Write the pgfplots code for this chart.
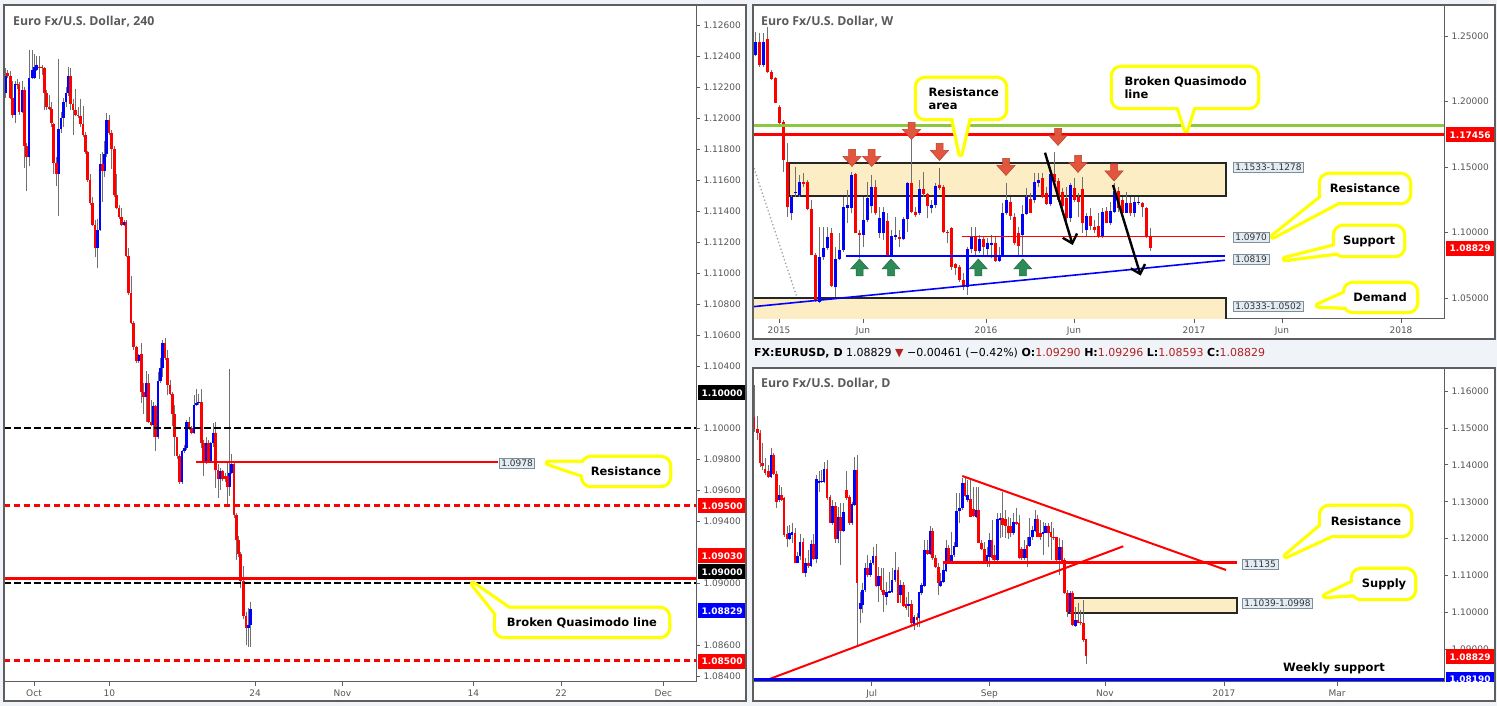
\documentclass[border=0pt]{standalone}
\usepackage{fontspec}
\setmainfont{DejaVu Sans}
\newfontfamily\ttlfont{Open Sans}
\usepackage{pgfplots}
\usepackage{pgfplotstable}
\pgfplotsset{compat=1.18}
\usetikzlibrary{arrows.meta}

\definecolor{bgc}{HTML}{F0F3F7}
\definecolor{frame}{HTML}{5E5E5E}
\definecolor{tickc}{HTML}{555555}
\definecolor{upc}{HTML}{0000FF}
\definecolor{dnc}{HTML}{FF0000}
\definecolor{wickc}{HTML}{707070}
\definecolor{beige}{HTML}{FDEDC5}
\definecolor{ylw}{HTML}{FFFF00}
\definecolor{lbfill}{HTML}{E4ECF3}
\definecolor{lbdraw}{HTML}{7D8E9C}
\definecolor{lbtext}{HTML}{333333}
\definecolor{qgreen}{HTML}{8DC63F}
\definecolor{arrred}{HTML}{E2553F}
\definecolor{arrredd}{HTML}{B8402C}
\definecolor{arrgrn}{HTML}{2E8B57}
\definecolor{arrgrnd}{HTML}{1F6B40}
\definecolor{infored}{HTML}{B22222}
\definecolor{ttlc}{HTML}{5A5A5A}

\pgfdeclareplotmark{adown}{%
  \pgfpathmoveto{\pgfpoint{-3.5pt}{8.5pt}}%
  \pgfpathlineto{\pgfpoint{3.5pt}{8.5pt}}%
  \pgfpathlineto{\pgfpoint{3.5pt}{1.5pt}}%
  \pgfpathlineto{\pgfpoint{9pt}{1.5pt}}%
  \pgfpathlineto{\pgfpoint{0pt}{-8.5pt}}%
  \pgfpathlineto{\pgfpoint{-9pt}{1.5pt}}%
  \pgfpathlineto{\pgfpoint{-3.5pt}{1.5pt}}%
  \pgfpathclose
  \pgfusepathqfillstroke}
\pgfdeclareplotmark{aup}{%
  \pgfpathmoveto{\pgfpoint{-3.5pt}{-8.5pt}}%
  \pgfpathlineto{\pgfpoint{3.5pt}{-8.5pt}}%
  \pgfpathlineto{\pgfpoint{3.5pt}{-1.5pt}}%
  \pgfpathlineto{\pgfpoint{9pt}{-1.5pt}}%
  \pgfpathlineto{\pgfpoint{0pt}{8.5pt}}%
  \pgfpathlineto{\pgfpoint{-9pt}{-1.5pt}}%
  \pgfpathlineto{\pgfpoint{-3.5pt}{-1.5pt}}%
  \pgfpathclose
  \pgfusepathqfillstroke}

% 4H candles: x (chart position), open, high, low, close
\pgfplotstableread{
x o h l c
5.7 1.1216 1.1232 1.1213 1.1227
7.3 1.1229 1.1231 1.1226 1.1227
10.3 1.1227 1.1230 1.1212 1.1213
12.3 1.1213 1.1224 1.1200 1.1202
15.0 1.1202 1.1224 1.1197 1.1222
17.3 1.1222 1.1225 1.1219 1.1221
19.0 1.1221 1.1223 1.1202 1.1204
22.0 1.1204 1.1224 1.1203 1.1218
24.3 1.1218 1.1220 1.1168 1.1182
26.7 1.1182 1.1184 1.1153 1.1175
29.0 1.1175 1.1244 1.1169 1.1226
32.0 1.1226 1.1244 1.1225 1.1231
34.3 1.1226 1.1241 1.1225 1.1233
36.7 1.1231 1.1240 1.1230 1.1234
39.3 1.1233 1.1240 1.1225 1.1232
42.0 1.1233 1.1234 1.1228 1.1232
44.3 1.1232 1.1233 1.1205 1.1216
46.7 1.1216 1.1218 1.1205 1.1207
49.3 1.1207 1.1215 1.1205 1.1206
51.7 1.1206 1.1210 1.1194 1.1197
53.7 1.1196 1.1197 1.1164 1.1171
56.7 1.1171 1.1175 1.1156 1.1164
58.7 1.1164 1.1238 1.1137 1.1193
61.0 1.1193 1.1204 1.1190 1.1200
63.3 1.1200 1.1213 1.1194 1.1210
66.0 1.1210 1.1220 1.1207 1.1216
68.0 1.1216 1.1233 1.1214 1.1227
70.3 1.1227 1.1232 1.1205 1.1209
73.0 1.1209 1.1212 1.1189 1.1205
75.3 1.1205 1.1219 1.1201 1.1202
78.0 1.1202 1.1207 1.1200 1.1201
80.3 1.1201 1.1212 1.1194 1.1196
83.0 1.1196 1.1208 1.1188 1.1189
85.7 1.1189 1.1191 1.1177 1.1178
87.7 1.1178 1.1179 1.1159 1.1160
90.0 1.1160 1.1164 1.1144 1.1145
92.3 1.1145 1.1149 1.1130 1.1131
95.0 1.1131 1.1134 1.1110 1.1116
97.7 1.1116 1.1135 1.1103 1.1128
100.0 1.1128 1.1177 1.1127 1.1170
102.3 1.1170 1.1178 1.1146 1.1166
104.3 1.1166 1.1185 1.1162 1.1177
106.7 1.1177 1.1203 1.1175 1.1199
109.0 1.1199 1.1202 1.1189 1.1190
111.3 1.1190 1.1192 1.1167 1.1180
114.3 1.1180 1.1182 1.1149 1.1150
116.7 1.1150 1.1164 1.1141 1.1142
119.0 1.1142 1.1144 1.1135 1.1136
121.3 1.1136 1.1142 1.1130 1.1131
124.0 1.1131 1.1134 1.1130 1.1133
126.0 1.1133 1.1134 1.1110 1.1111
128.7 1.1111 1.1116 1.1086 1.1087
131.0 1.1087 1.1098 1.1067 1.1068
133.3 1.1068 1.1069 1.1050 1.1052
136.7 1.1052 1.1053 1.1042 1.1043
138.7 1.1043 1.1048 1.1042 1.1047
141.3 1.1048 1.1055 1.1016 1.1023
143.7 1.1023 1.1029 1.1009 1.1020
146.0 1.1020 1.1037 1.1004 1.1029
148.3 1.1029 1.1035 1.1003 1.1004
151.0 1.1004 1.1018 1.1001 1.1002
153.3 1.1002 1.1017 1.0994 1.1014
155.7 1.1014 1.1015 1.0985 1.0994
158.0 1.0994 1.1036 1.0993 1.1030
160.3 1.1030 1.1045 1.1029 1.1039
162.7 1.1039 1.1057 1.1033 1.1055
165.0 1.1055 1.1058 1.1044 1.1045
167.7 1.1045 1.1050 1.1021 1.1028
170.0 1.1028 1.1031 1.1021 1.1022
172.3 1.1022 1.1023 1.1001 1.1009
174.7 1.1009 1.1015 1.0982 1.0994
177.0 1.0994 1.0994 1.0980 1.0982
179.7 1.0982 1.0983 1.0964 1.0965
182.0 1.0965 1.0986 1.0964 1.0985
184.3 1.0985 1.0989 1.0984 1.0987
186.7 1.0987 1.1005 1.0986 1.1004
189.0 1.1004 1.1007 1.0999 1.1000
191.3 1.1000 1.1001 1.0996 1.0997
194.0 1.0997 1.1021 1.0996 1.1015
196.3 1.1015 1.1025 1.1014 1.1016
198.7 1.1016 1.1022 1.1015 1.1017
201.3 1.1017 1.1025 1.0987 1.0990
203.7 1.0990 1.0992 1.0969 1.0979
206.0 1.0979 1.0994 1.0977 1.0990
208.3 1.0990 1.0992 1.0978 1.0979
210.7 1.0979 1.0991 1.0978 1.0990
213.0 1.0990 1.1003 1.0988 1.0997
215.7 1.0997 1.1004 1.0961 1.0973
218.0 1.0973 1.0977 1.0955 1.0967
220.3 1.0967 1.0974 1.0960 1.0972
222.7 1.0972 1.0973 1.0966 1.0967
225.0 1.0969 1.0971 1.0965 1.0967
227.3 1.0969 1.0978 1.0951 1.0962
229.3 1.0962 1.1038 1.0956 1.0971
231.7 1.0971 1.0983 1.0970 1.0977
234.0 1.0977 1.0979 1.0942 1.0944
236.3 1.0944 1.0945 1.0915 1.0928
238.7 1.0928 1.0930 1.0917 1.0919
240.7 1.0919 1.0920 1.0897 1.0901
243.3 1.0901 1.0911 1.0877 1.0879
246.0 1.0879 1.0881 1.0860 1.0871
248.3 1.0871 1.0884 1.0859 1.0873
250.3 1.0873 1.0888 1.0859 1.0883
}\tblL

% weekly candles
\pgfplotstableread{
x o h l c
755.0 1.2355 1.2533 1.2350 1.2457
759.3 1.2457 1.2520 1.2266 1.2279
763.3 1.2279 1.2520 1.2266 1.2457
767.3 1.2475 1.2571 1.2220 1.2228
771.3 1.2228 1.2241 1.2164 1.2172
775.3 1.2177 1.2190 1.1986 1.1991
779.3 1.1961 1.1973 1.1808 1.1838
783.3 1.1846 1.1859 1.1464 1.1553
787.3 1.1541 1.1681 1.1121 1.1197
791.3 1.1146 1.1286 1.1095 1.1274
795.3 1.1299 1.1503 1.1274 1.1312
799.3 1.1286 1.1439 1.1274 1.1388
803.3 1.1388 1.1452 1.1350 1.1368
807.3 1.1388 1.1401 1.1172 1.1177
811.3 1.1177 1.1248 1.0825 1.0828
815.3 1.0828 1.0841 1.0472 1.0477
819.3 1.0472 1.1045 1.0459 1.0810
823.3 1.0810 1.1045 1.0790 1.0879
827.3 1.0879 1.1045 1.0866 1.0963
831.3 1.0994 1.1032 1.0581 1.0592
835.3 1.0581 1.0892 1.0510 1.0795
839.3 1.0795 1.0994 1.0790 1.0866
843.3 1.0866 1.1274 1.0854 1.1197
847.3 1.1184 1.1325 1.1070 1.1210
851.3 1.1184 1.1464 1.1146 1.1439
855.3 1.1447 1.1452 1.0994 1.0999
859.3 1.0999 1.1019 1.0803 1.0981
863.3 1.0981 1.1274 1.0892 1.1095
867.3 1.1095 1.1388 1.1083 1.1261
871.3 1.1202 1.1439 1.1146 1.1350
875.3 1.1350 1.1401 1.1134 1.1146
879.3 1.0999 1.1197 1.0955 1.1108
883.3 1.0994 1.1197 1.0943 1.1159
887.3 1.1090 1.1146 1.0815 1.0821
891.3 1.0821 1.1019 1.0815 1.0973
895.3 1.0968 1.1121 1.0943 1.0981
899.3 1.0968 1.1019 1.0892 1.0948
903.3 1.0948 1.1121 1.0943 1.1100
907.3 1.1100 1.1388 1.1006 1.1380
911.3 1.1380 1.1770 1.1146 1.1159
915.3 1.1159 1.1197 1.1121 1.1134
919.3 1.1151 1.1401 1.1134 1.1330
923.3 1.1330 1.1459 1.1274 1.1291
927.3 1.1291 1.1299 1.1108 1.1202
931.3 1.1184 1.1248 1.1146 1.1210
935.3 1.1210 1.1380 1.1184 1.1355
939.3 1.1363 1.1490 1.1325 1.1337
943.3 1.1350 1.1363 1.0994 1.1006
947.3 1.1006 1.1019 1.0917 1.0994
951.3 1.1032 1.1045 1.0714 1.0739
955.3 1.0760 1.0764 1.0676 1.0727
959.3 1.0739 1.0752 1.0625 1.0638
963.3 1.0638 1.0688 1.0561 1.0581
967.3 1.0581 1.0892 1.0523 1.0872
971.3 1.0872 1.1045 1.0841 1.0973
975.3 1.0973 1.1045 1.0828 1.0861
979.3 1.0861 1.0981 1.0841 1.0948
983.3 1.0948 1.0968 1.0815 1.0892
987.3 1.0872 1.0955 1.0815 1.0922
991.3 1.0905 1.0981 1.0803 1.0917
995.3 1.0917 1.0968 1.0777 1.0785
999.3 1.0785 1.0892 1.0777 1.0828
1002.7 1.0828 1.1223 1.0815 1.1146
1006.7 1.1146 1.1376 1.1134 1.1248
1010.7 1.1235 1.1274 1.1095 1.1126
1014.7 1.1121 1.1146 1.0905 1.0917
1018.7 1.0994 1.1045 1.0828 1.0897
1022.7 1.0981 1.1210 1.0828 1.1141
1026.7 1.1141 1.1337 1.1134 1.1268
1030.7 1.1253 1.1299 1.1146 1.1151
1034.7 1.1248 1.1452 1.1223 1.1388
1038.7 1.1380 1.1452 1.1350 1.1401
1042.7 1.1414 1.1457 1.1261 1.1274
1046.7 1.1299 1.1350 1.1210 1.1218
1050.7 1.1218 1.1503 1.1202 1.1447
1054.7 1.1447 1.1617 1.1350 1.1388
1058.7 1.1393 1.1414 1.1235 1.1248
1062.7 1.1312 1.1337 1.1184 1.1202
1066.7 1.1261 1.1350 1.1083 1.1108
1070.7 1.1108 1.1376 1.1083 1.1363
1074.7 1.1337 1.1414 1.1235 1.1248
1078.7 1.1274 1.1299 1.1121 1.1235
1082.7 1.1330 1.1426 1.0994 1.1075
1086.7 1.1019 1.1146 1.0968 1.1126
1090.7 1.1126 1.1184 1.1019 1.1050
1094.7 1.1045 1.1095 1.0994 1.1019
1098.7 1.1050 1.1146 1.0955 1.0968
1102.7 1.0968 1.1184 1.0955 1.1159
1106.7 1.1167 1.1197 1.1070 1.1075
1110.7 1.1075 1.1235 1.1057 1.1167
1114.7 1.1159 1.1376 1.1146 1.1319
1118.7 1.1319 1.1350 1.1159 1.1184
1122.7 1.1248 1.1274 1.1134 1.1151
1126.7 1.1151 1.1312 1.1146 1.1228
1130.7 1.1228 1.1274 1.1126 1.1146
1134.7 1.1146 1.1274 1.1121 1.1235
1138.7 1.1223 1.1274 1.1210 1.1235
1142.7 1.1223 1.1235 1.1121 1.1192
1146.7 1.1184 1.1197 1.0955 1.0963
1150.7 1.0968 1.1032 1.0861 1.0883
}\tblW

% daily candles
\pgfplotstableread{
x o h l c
754.0 1.1529 1.1616 1.1490 1.1496
757.3 1.1496 1.1531 1.1467 1.1485
760.0 1.1485 1.1494 1.1395 1.1404
762.7 1.1404 1.1458 1.1386 1.1398
765.0 1.1390 1.1418 1.1372 1.1379
768.3 1.1382 1.1400 1.1363 1.1368
771.0 1.1368 1.1445 1.1363 1.1427
773.3 1.1427 1.1431 1.1372 1.1375
776.3 1.1375 1.1382 1.1282 1.1300
779.0 1.1305 1.1345 1.1300 1.1318
781.3 1.1318 1.1341 1.1303 1.1305
784.0 1.1309 1.1314 1.1205 1.1210
787.0 1.1212 1.1233 1.1178 1.1198
789.7 1.1200 1.1237 1.1196 1.1216
792.0 1.1210 1.1242 1.1187 1.1218
795.0 1.1216 1.1228 1.1133 1.1135
797.7 1.1135 1.1165 1.1133 1.1153
800.0 1.1153 1.1214 1.1142 1.1191
803.0 1.1191 1.1201 1.1106 1.1108
805.7 1.1108 1.1147 1.1097 1.1133
808.3 1.1135 1.1169 1.1120 1.1127
811.0 1.1127 1.1196 1.1124 1.1186
813.7 1.1186 1.1214 1.1142 1.1146
816.7 1.1146 1.1372 1.1133 1.1361
819.0 1.1350 1.1382 1.1327 1.1357
821.7 1.1353 1.1386 1.1350 1.1357
824.0 1.1354 1.1409 1.1350 1.1388
827.0 1.1388 1.1413 1.1305 1.1309
830.0 1.1312 1.1318 1.1242 1.1243
832.7 1.1243 1.1305 1.1237 1.1289
835.3 1.1289 1.1300 1.1189 1.1200
838.0 1.1200 1.1287 1.1189 1.1258
840.7 1.1258 1.1296 1.1129 1.1222
843.7 1.1222 1.1296 1.1219 1.1272
846.3 1.1332 1.1384 1.1305 1.1311
849.3 1.1312 1.1318 1.1237 1.1242
852.0 1.1242 1.1300 1.1237 1.1294
854.3 1.1291 1.1422 1.1289 1.1386
857.0 1.1386 1.1427 1.0912 1.1081
860.3 1.1009 1.1056 1.0971 1.1025
862.3 1.1020 1.1079 1.0998 1.1061
865.0 1.1061 1.1133 1.1056 1.1120
867.7 1.1120 1.1156 1.1097 1.1102
870.3 1.1102 1.1142 1.1097 1.1133
873.0 1.1133 1.1178 1.1129 1.1153
876.0 1.1153 1.1186 1.1070 1.1073
878.7 1.1073 1.1124 1.1029 1.1099
881.0 1.1099 1.1120 1.1056 1.1061
883.7 1.1061 1.1120 1.1002 1.1047
886.7 1.1043 1.1084 1.1020 1.1056
889.3 1.1054 1.1111 1.1052 1.1058
892.0 1.1055 1.1120 1.1052 1.1088
895.0 1.1088 1.1165 1.1084 1.1115
898.0 1.1115 1.1124 1.1025 1.1027
900.7 1.1047 1.1088 1.1025 1.1075
903.3 1.1075 1.1084 1.1016 1.1018
906.0 1.1023 1.1043 1.1007 1.1011
908.7 1.1018 1.1056 1.0989 1.1023
911.3 1.1023 1.1034 1.0966 1.0971
914.0 1.0969 1.0993 1.0953 1.0989
917.0 1.0989 1.0998 1.0962 1.0980
919.0 1.0984 1.1056 1.0962 1.1055
921.7 1.1052 1.1079 1.1047 1.1075
924.3 1.1072 1.1196 1.1070 1.1169
927.3 1.1169 1.1196 1.1156 1.1159
930.0 1.1159 1.1233 1.1156 1.1222
932.7 1.1222 1.1228 1.1142 1.1147
935.3 1.1147 1.1156 1.1120 1.1124
938.3 1.1124 1.1133 1.1047 1.1081
940.7 1.1072 1.1106 1.1070 1.1086
943.3 1.1084 1.1133 1.1079 1.1115
946.0 1.1113 1.1196 1.1111 1.1174
948.7 1.1174 1.1183 1.1131 1.1133
951.3 1.1133 1.1219 1.1131 1.1156
954.0 1.1156 1.1192 1.1151 1.1180
956.7 1.1178 1.1323 1.1177 1.1276
959.7 1.1276 1.1323 1.1242 1.1284
962.3 1.1282 1.1363 1.1278 1.1352
965.0 1.1352 1.1366 1.1312 1.1316
967.7 1.1305 1.1359 1.1300 1.1318
970.7 1.1307 1.1359 1.1258 1.1260
973.3 1.1280 1.1341 1.1258 1.1262
976.0 1.1260 1.1341 1.1255 1.1278
978.7 1.1278 1.1341 1.1187 1.1189
981.7 1.1189 1.1196 1.1168 1.1171
984.3 1.1171 1.1192 1.1131 1.1140
987.0 1.1140 1.1178 1.1124 1.1156
989.7 1.1151 1.1215 1.1122 1.1196
992.0 1.1196 1.1251 1.1142 1.1147
994.7 1.1156 1.1183 1.1138 1.1142
997.3 1.1142 1.1269 1.1140 1.1252
1000.0 1.1251 1.1269 1.1201 1.1255
1002.7 1.1255 1.1327 1.1205 1.1237
1005.3 1.1252 1.1278 1.1201 1.1233
1008.0 1.1234 1.1260 1.1198 1.1216
1010.7 1.1233 1.1255 1.1204 1.1216
1013.3 1.1216 1.1269 1.1210 1.1246
1016.3 1.1246 1.1282 1.1237 1.1240
1019.0 1.1242 1.1264 1.1144 1.1147
1021.7 1.1171 1.1177 1.1142 1.1147
1024.3 1.1147 1.1196 1.1142 1.1171
1027.0 1.1183 1.1205 1.1122 1.1147
1029.7 1.1180 1.1255 1.1178 1.1205
1032.3 1.1204 1.1233 1.1196 1.1224
1035.0 1.1222 1.1278 1.1219 1.1252
1037.7 1.1252 1.1264 1.1204 1.1205
1040.3 1.1215 1.1251 1.1196 1.1205
1043.0 1.1213 1.1246 1.1156 1.1219
1045.7 1.1216 1.1242 1.1215 1.1233
1048.3 1.1233 1.1242 1.1178 1.1216
1051.0 1.1219 1.1246 1.1142 1.1204
1053.7 1.1205 1.1228 1.1196 1.1201
1056.3 1.1204 1.1205 1.1140 1.1142
1059.3 1.1142 1.1201 1.1102 1.1177
1062.0 1.1177 1.1196 1.1138 1.1140
1064.7 1.1142 1.1147 1.1050 1.1052
1067.3 1.1054 1.1061 1.0989 1.1002
1070.0 1.1002 1.1057 1.0998 1.1054
1072.7 1.1054 1.1057 1.0964 1.0966
1075.3 1.0964 1.1016 1.0962 1.0980
1078.0 1.0980 1.1025 1.0971 1.0972
1080.7 1.0975 1.1007 1.0966 1.0971
1083.3 1.0972 1.1034 1.0921 1.0926
1086.0 1.0929 1.09296 1.08593 1.08829
}\tblD

\pgfplotsset{
  tv/.style={
    scale only axis, clip=true, anchor=south west,
    axis x line*=bottom, axis y line*=right,
    axis line style={-, draw=frame, line width=1pt},
    tick align=outside, major tick length=4pt,
    tick style={draw=frame, line width=0.8pt},
    ticklabel style={font=\fontsize{9}{11}\selectfont, text=tickc},
    yticklabel style={/pgf/number format/fixed, /pgf/number format/fixed zerofill, /pgf/number format/precision=5},
    /pgf/number format/assume math mode=true,
    scaled y ticks=false, minor tick num=0,
  },
}
\newcommand{\candles}[2]{%
  \addplot[wickc, line width=1pt, quiver={u=0,v=\thisrow{h}-\thisrow{l}, every arrow/.append style={line width=1pt}}] table[x=x,y=l]{#1};
  \addplot[upc, line width=#2, quiver={u=0,v=\thisrow{c}-\thisrow{o}, every arrow/.append style={line width=#2}}, restrict expr to domain={\thisrow{c}-\thisrow{o}}{0:1}] table[x=x,y=o]{#1};
  \addplot[dnc, line width=#2, quiver={u=0,v=\thisrow{c}-\thisrow{o}, every arrow/.append style={line width=#2}}, restrict expr to domain={\thisrow{c}-\thisrow{o}}{-1:0}] table[x=x,y=o]{#1};
}
\newcommand{\pbox}[4]{\node[fill=#3, text=white, font=\bfseries\fontsize{9}{11}\selectfont, minimum width=48pt, minimum height=15pt, inner sep=0pt, anchor=west] at (#1,#2) {#4};}
\newcommand{\lbox}[3]{\node[fill=lbfill, draw=lbdraw, line width=0.6pt, text=lbtext, font=\fontsize{9}{11}\selectfont, inner xsep=2pt, inner ysep=1.6pt, anchor=west] at (#1,#2) {#3};}
\newcommand{\callout}[5]{%
  \draw[draw=ylw, line width=6.5pt, rounded corners=8pt] (#1,#2) rectangle (#3,#4);
  \draw[draw=ylw, line width=6.5pt, line join=round] #5 -- cycle;
  \fill[white, rounded corners=8pt] (#1,#2) rectangle (#3,#4);
  \fill[white] #5 -- cycle;
}
\newcommand{\cof}{\bfseries\fontsize{11.5}{12.5}\selectfont}

\begin{document}
\begin{tikzpicture}[x=1pt,y=1pt]
\fill[bgc] (0,0) rectangle (1497,706);
\fill[white] (4,5) rectangle (746,701);
\fill[white] (753,367) rectangle (1495,701);
\fill[white] (753,5) rectangle (1495,338);

% ---------------- left: 240 ----------------
\begin{axis}[tv, at={(4pt,24pt)}, width=692pt, height=677pt,
  xmin=4, xmax=696, ymin=1.08361, ymax=1.12729,
  xtick={34,109.3,255,342.3,473.3,561,663.3}, xticklabels={Oct,10,24,Nov,14,22,Dec},
  ytick={1.084,1.086,1.090,1.094,1.096,1.098,1.100,1.104,1.106,1.108,1.110,1.112,1.114,1.116,1.118,1.120,1.122,1.124,1.126}]
\candles{\tblL}{2.6pt}
\addplot[black, line width=2.8pt, dash pattern=on 6.5pt off 3.5pt] coordinates {(4,1.1000) (696,1.1000)};
\addplot[dnc, line width=1.8pt] coordinates {(196,1.0978) (498,1.0978)};
\addplot[dnc, line width=2.6pt, dash pattern=on 6pt off 4pt] coordinates {(4,1.0950) (696,1.0950)};
\addplot[black, line width=2.8pt, dash pattern=on 6.5pt off 3.5pt] coordinates {(4,1.0900) (696,1.0900)};
\addplot[dnc, line width=2.8pt] coordinates {(4,1.0903) (696,1.0903)};
\addplot[dnc, line width=2.6pt, dash pattern=on 6pt off 4pt] coordinates {(4,1.0850) (696,1.0850)};
\end{axis}

% ---------------- weekly ----------------
\begin{axis}[tv, at={(753pt,387pt)}, width=691pt, height=314pt,
  xmin=753, xmax=1444, ymin=1.03397, ymax=1.27366,
  xtick={779,863,986,1074,1194,1282,1401}, xticklabels={2015,Jun,2016,Jun,2017,Jun,2018},
  ytick={1.05,1.10,1.15,1.20,1.25}]
\draw[fill=beige, draw=black!85, line width=2pt] (axis cs:789,1.1278) rectangle (axis cs:1226,1.1533);
\draw[fill=beige, draw=black!85, line width=2pt] (axis cs:753,1.0333) rectangle (axis cs:1226,1.0502);
\addplot[gray!75, line width=1.7pt, dash pattern=on 0.1pt off 3.6pt, line cap=round] coordinates {(753,1.15153) (796.7,1.05099)};
\candles{\tblW}{3.2pt}
\addplot[qgreen, line width=3pt] coordinates {(753,1.1813) (1444,1.1813)};
\addplot[dnc, line width=3pt] coordinates {(753,1.17456) (1444,1.17456)};
\addplot[dnc, line width=1.8pt] coordinates {(962,1.0970) (1225,1.0970)};
\addplot[upc, line width=2pt] coordinates {(846,1.0819) (1225,1.0819)};
\addplot[upc, line width=1.6pt] coordinates {(753,1.04336) (1225,1.07878)};
\addplot[only marks, mark=adown, mark options={fill=arrred, draw=arrredd, line width=0.5pt}] coordinates {(852,1.15687) (871.7,1.15687) (911.5,1.17748) (939.5,1.16145) (1006,1.1500) (1058,1.1729) (1078,1.15229) (1114,1.1458)};
\addplot[only marks, mark=aup, mark options={fill=arrgrn, draw=arrgrnd, line width=0.5pt}] coordinates {(859.5,1.07328) (891,1.07328) (978.3,1.07328) (1022.8,1.07328)};
\draw[black, line width=2.4pt, -{Straight Barb[length=8pt, width=15pt]}] (axis cs:1045,1.16092) -- (axis cs:1072.7,1.09046);
\draw[black, line width=2.4pt, -{Straight Barb[length=8pt, width=15pt]}] (axis cs:1113,1.13626) -- (axis cs:1140.7,1.0671);
\end{axis}

% ---------------- daily ----------------
\begin{axis}[tv, at={(753pt,24pt)}, width=691pt, height=314pt,
  xmin=753, xmax=1444, ymin=1.08118, ymax=1.16623,
  xtick={871.7,989.3,1105,1224,1337}, xticklabels={Jul,Sep,Nov,2017,Mar},
  ytick={1.09,1.10,1.11,1.12,1.13,1.14,1.15,1.16}]
\draw[fill=beige, draw=black!85, line width=2pt] (axis cs:1069,1.0998) rectangle (axis cs:1237,1.1039);
\candles{\tblD}{2.5pt}
\addplot[dnc, line width=2pt] coordinates {(962.3,1.13698) (1226,1.11152)};
\addplot[dnc, line width=2pt] coordinates {(765,1.08153) (1123.3,1.11794)};
\addplot[dnc, line width=3pt] coordinates {(943,1.1135) (1237,1.1135)};
\addplot[upc, line width=3pt] coordinates {(753,1.0819) (1444,1.0819)};
\end{axis}

% price boxes on the scales
\pbox{698}{313}{black}{1.10000}
\pbox{698}{200}{dnc}{1.09500}
\pbox{698}{150}{dnc}{1.09030}
\pbox{698}{134}{black}{1.09000}
\pbox{698}{95}{upc}{1.08829}
\pbox{698}{44.5}{dnc}{1.08500}
\pbox{1446}{571}{dnc}{1.17456}
\pbox{1446}{457.5}{dnc}{1.08829}
\pbox{1446}{49}{dnc}{1.08829}
\begin{scope}
\clip (1444,24) rectangle (1497,338);
\pbox{1446}{26.7}{upc}{1.08190}
\end{scope}

% level labels
\lbox{499}{243}{1.0978}
\lbox{1233}{538.5}{1.1533-1.1278}
\lbox{1233}{468.5}{1.0970}
\lbox{1233}{447}{1.0819}
\lbox{1233}{400}{1.0333-1.0502}
\lbox{1242}{142}{1.1135}
\lbox{1242}{103}{1.1039-1.0998}

% callouts
\callout{583}{221}{669}{248}{(592,243)--(548,243)--(592,228)}
\node[font=\cof] at (626,234.5) {Resistance};
\callout{496}{70}{668}{97}{(500,88)--(473,122)--(516,92)}
\node[font=\cof] at (582,83.5) {Broken Quasimodo line};
\callout{917}{588}{1005}{627}{(952,594)--(960.5,552)--(970,594)}
\node[font=\cof, anchor=west, align=left] at (925,607.5) {Resistance\\area};
\callout{1113}{599}{1257}{638}{(1177,604)--(1186,576)--(1195,604)}
\node[font=\cof, anchor=west, align=left] at (1121,618.5) {Broken Quasimodo\\line};
\callout{1321}{504}{1409}{531}{(1326,512)--(1273,469.5)--(1340,505)}
\node[font=\cof] at (1365,517.5) {Resistance};
\callout{1335}{451}{1403}{479}{(1340,461)--(1285,447)--(1341,454)}
\node[font=\cof] at (1369,465) {Support};
\callout{1345}{395}{1416}{422}{(1350,415)--(1318,400.5)--(1350,399)}
\node[font=\cof] at (1380,408.5) {Demand};
\callout{1321}{171}{1410}{199}{(1326,184)--(1286,150)--(1338,174)}
\node[font=\cof] at (1366,185) {Resistance};
\callout{1353}{108}{1414}{136}{(1358,126)--(1325,110)--(1358,112)}
\node[font=\cof] at (1384,122) {Supply};
\node[font=\cof] at (1334,37.4) {Weekly support};

% titles and info line
\node[anchor=west, font=\ttlfont\bfseries\fontsize{12.3}{14}\selectfont, text=ttlc, inner sep=0pt] at (13,684) {Euro Fx/U.S. Dollar, 240};
\node[anchor=west, font=\ttlfont\bfseries\fontsize{12.3}{14}\selectfont, text=ttlc, inner sep=0pt] at (761,684) {Euro Fx/U.S. Dollar, W};
\node[anchor=west, font=\ttlfont\bfseries\fontsize{12.3}{14}\selectfont, text=ttlc, inner sep=0pt] at (761,322) {Euro Fx/U.S. Dollar, D};
\node[anchor=west, font=\fontsize{11}{13}\selectfont, inner sep=0pt] at (754,353) {\textbf{FX:EURUSD, D} 1.08829 {\color{infored}▼} −0.00461 (−0.42\%) \textbf{O:}{\color{infored}1.09290} \textbf{H:}{\color{infored}1.09296} \textbf{L:}{\color{infored}1.08593} \textbf{C:}{\color{infored}1.08829}};

% panel frames
\draw[frame, line width=1.2pt] (4,5) rectangle (746,701);
\draw[frame, line width=1.2pt] (753,367) rectangle (1495,701);
\draw[frame, line width=1.2pt] (753,5) rectangle (1495,338);

\pgfresetboundingbox
\path[use as bounding box] (0,0) rectangle (1497,706);
\end{tikzpicture}
\end{document}
